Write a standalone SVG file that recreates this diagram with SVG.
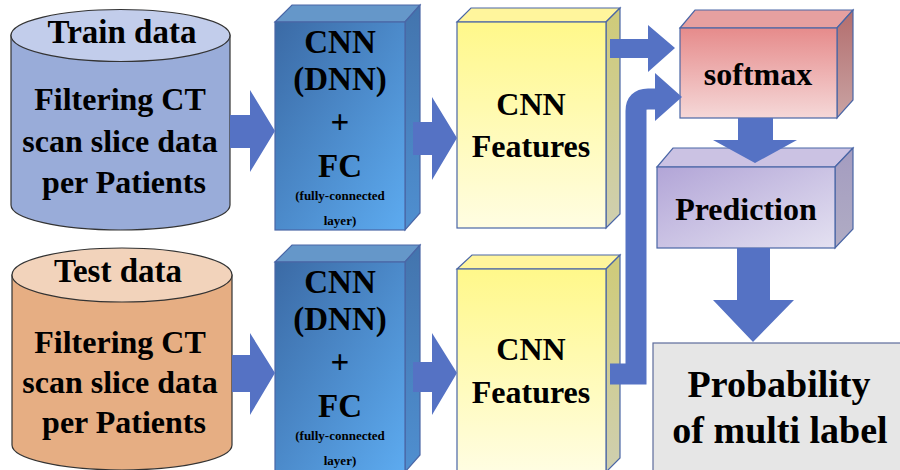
<svg xmlns="http://www.w3.org/2000/svg" width="900" height="470" viewBox="0 0 900 470" font-family="Liberation Serif, DejaVu Serif, serif">
<defs>
<linearGradient id="gCnn" x1="0" y1="0" x2="1" y2="1"><stop offset="0" stop-color="#3b6aa5"/><stop offset="1" stop-color="#5dabf0"/></linearGradient>
<linearGradient id="gCnnSide" x1="0" y1="0" x2="0" y2="1"><stop offset="0" stop-color="#4374ad"/><stop offset="1" stop-color="#4f8fd0"/></linearGradient>
<linearGradient id="gFeat" x1="0" y1="0" x2="0" y2="1"><stop offset="0" stop-color="#fff88a"/><stop offset="1" stop-color="#fffde2"/></linearGradient>
<linearGradient id="gFeatSide" x1="0" y1="0" x2="0" y2="1"><stop offset="0" stop-color="#cfcb78"/><stop offset="1" stop-color="#cfcfb0"/></linearGradient>
<linearGradient id="gSoft" x1="0" y1="0" x2="0" y2="1"><stop offset="0" stop-color="#e68b8b"/><stop offset="1" stop-color="#f5d8d8"/></linearGradient>
<linearGradient id="gSoftSide" x1="0" y1="0" x2="0" y2="1"><stop offset="0" stop-color="#b36d6d"/><stop offset="1" stop-color="#c9a3a3"/></linearGradient>
<linearGradient id="gPred" x1="0" y1="0" x2="1" y2="1"><stop offset="0" stop-color="#b2a5d7"/><stop offset="1" stop-color="#e4e1f1"/></linearGradient>
<linearGradient id="gPredSide" x1="0" y1="0" x2="0" y2="1"><stop offset="0" stop-color="#a49cc0"/><stop offset="1" stop-color="#b0acc4"/></linearGradient>
</defs>
<style>
text{font-family:"Liberation Serif","DejaVu Serif",serif;font-weight:bold;fill:#000;text-anchor:middle}
.cyl{stroke:#333;stroke-width:1.2}
.bx{stroke:#4a66a6;stroke-width:1.2}
.arr{fill:#5572c4;stroke:none}
.big{font-size:32px}
.mid{font-size:33px}
.sm{font-size:13px}
</style>

<g id="train-data">
<path class="cyl" d="M11,35 V205 A109.5,25 0 0 0 230,205 V35 Z" fill="#99acd9"/>
<ellipse class="cyl" cx="120.5" cy="35.5" rx="109.5" ry="26" fill="#c2cdeb"/>
<text x="122" y="43" style="font-size:33px">Train data</text>
<text x="120" y="110" class="big">Filtering CT</text>
<text x="120" y="152" class="big">scan slice data</text>
<text x="124" y="193" class="big">per Patients</text>
</g>

<g id="test-data">
<path class="cyl" d="M12,275 V445 A110,25 0 0 0 232,445 V275 Z" fill="#e6ae83"/>
<ellipse class="cyl" cx="122" cy="275" rx="110" ry="27" fill="#f2d3bb"/>
<text x="118" y="282" style="font-size:33px">Test data</text>
<text x="120" y="353" class="big">Filtering CT</text>
<text x="120" y="393" class="big">scan slice data</text>
<text x="124" y="433" class="big">per Patients</text>
</g>

<g id="cnn-train">
<polygon class="bx" points="275,22 292,5 420,5 405,22" fill="#6597c9"/>
<polygon class="bx" points="405,22 420,5 420,213 405,230" fill="url(#gCnnSide)"/>
<rect class="bx" x="275" y="22" width="130" height="208" fill="url(#gCnn)"/>
<text x="340" y="53" class="mid">CNN</text>
<text x="340" y="90" class="mid">(DNN)</text>
<text x="340" y="133" class="mid">+</text>
<text x="340" y="177" class="mid">FC</text>
<text x="340" y="200" class="sm">(fully-connected</text>
<text x="340" y="225" class="sm">layer)</text>
</g>

<g id="cnn-test">
<polygon class="bx" points="275,262 292,245 420,245 405,262" fill="#6597c9"/>
<polygon class="bx" points="405,262 420,245 420,455 405,472" fill="url(#gCnnSide)"/>
<rect class="bx" x="275" y="262" width="130" height="210" fill="url(#gCnn)"/>
<text x="340" y="293" class="mid">CNN</text>
<text x="340" y="330" class="mid">(DNN)</text>
<text x="340" y="373" class="mid">+</text>
<text x="340" y="417" class="mid">FC</text>
<text x="340" y="440" class="sm">(fully-connected</text>
<text x="340" y="465" class="sm">layer)</text>
</g>

<g id="features-train">
<polygon class="bx" points="457,22 471,8 620,8 606,22" fill="#fff59c"/>
<polygon class="bx" points="606,22 620,8 620,214 606,228" fill="url(#gFeatSide)"/>
<rect class="bx" x="457" y="22" width="149" height="206" fill="url(#gFeat)"/>
<text x="531" y="115" class="big">CNN</text>
<text x="531" y="157" class="big">Features</text>
</g>

<g id="features-test">
<polygon class="bx" points="457,269 472,255 620,255 606,269" fill="#fff59c"/>
<polygon class="bx" points="606,269 620,255 620,458 606,472" fill="url(#gFeatSide)"/>
<rect class="bx" x="457" y="269" width="149" height="203" fill="url(#gFeat)"/>
<text x="531" y="360" class="big">CNN</text>
<text x="531" y="403" class="big">Features</text>
</g>

<g id="softmax">
<polygon class="bx" points="680,28 695,10 853,10 837,28" fill="#e6a0a0"/>
<polygon class="bx" points="837,28 853,10 853,100 837,118" fill="url(#gSoftSide)"/>
<rect class="bx" x="680" y="28" width="157" height="90" fill="url(#gSoft)"/>
<text x="758" y="85" class="big">softmax</text>
</g>

<g id="prediction">
<polygon class="bx" points="657,167 673,148 853,148 835,167" fill="#cbc2e3"/>
<polygon class="bx" points="835,167 853,148 853,229 835,248" fill="url(#gPredSide)"/>
<rect class="bx" x="657" y="167" width="178" height="81" fill="url(#gPred)"/>
<text x="746" y="220" class="big">Prediction</text>
</g>

<g id="probability">
<rect x="653" y="343" width="260" height="140" fill="#e6e6e6" stroke="#5d6c9c" stroke-width="1.2"/>
<text x="779" y="397" style="font-size:38px">Probability</text>
<text x="780" y="443" style="font-size:38px">of multi label</text>
</g>

<g id="connectors">
<polygon class="arr" points="230,115 250,115 250,90 275,131 250,172 250,148 230,148"/>
<polygon class="arr" points="232,355 250,355 250,333 275,373 250,415 250,392 232,392"/>
<polygon class="arr" points="413,122 432,122 432,97 457,138 432,180 432,155 413,155"/>
<polygon class="arr" points="413,362 432,362 432,333 457,373 432,415 432,392 413,392"/>
<polygon class="arr" points="610,39 648,39 648,25 675,48 648,72 648,58 610,58"/>
<path d="M610,374 H636 V111 Q636,99 648,99 H657" fill="none" stroke="#5572c4" stroke-width="21"/>
<polygon class="arr" points="655,73 682,97 655,121"/>
<polygon class="arr" points="738,118 773,118 773,140 797,140 755,163 713,140 738,140"/>
<polygon class="arr" points="737,248 770,248 770,300 794,300 753,342 713,300 737,300"/>
</g>
</svg>
